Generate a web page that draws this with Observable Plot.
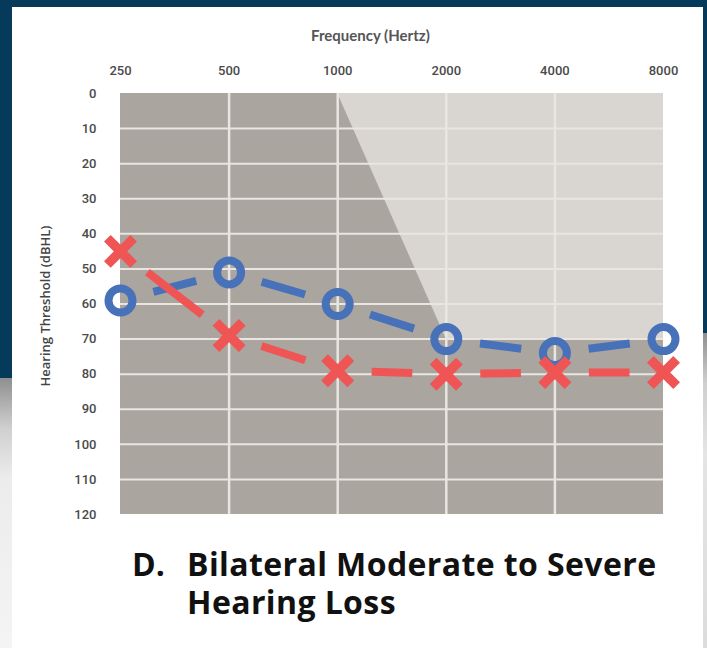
<!DOCTYPE html>
<html>
<head>
<meta charset="utf-8">
<script src="https://cdn.jsdelivr.net/npm/d3@7"></script>
<script src="https://cdn.jsdelivr.net/npm/@observablehq/plot@0.6"></script>
<style>
  html, body { margin: 0; padding: 0; }
  body { width: 707px; height: 648px; position: relative; overflow: hidden; background: #053a5a; }
  .card { position: absolute; left: 12px; top: 7px; width: 691px; height: 660px; background: #ffffff; }
  .shadeL { position: absolute; left: 0; top: 378px; width: 12px; height: 270px;
    background: linear-gradient(to bottom, #8f8f8f 0px, #cfcfcf 50px, #ececec 100px, #f4f4f4 270px); }
  .shadeR { position: absolute; left: 703px; top: 333px; width: 4px; height: 315px;
    background: linear-gradient(to bottom, #8f8f8f 0px, #cfcfcf 50px, #e4e4e4 120px, #dcdcdc 315px); }
  #chart { position: absolute; left: 0; top: 0; }
  .xtitle { position: absolute; left: 311px; top: 26px; font-family: Lato, sans-serif; font-weight: 700; font-size: 15px; color: #555; white-space: nowrap; }
  .ytitle { position: absolute; left: 45px; top: 306px; transform: translate(-50%, -50%) rotate(-90deg); font-family: "Open Sans", sans-serif; font-weight: 600; font-size: 13px; color: #444; white-space: nowrap; }
  .title { position: absolute; font-family: "Open Sans", sans-serif; font-weight: 700; font-size: 32px; line-height: 32px; color: #111; white-space: nowrap; letter-spacing: 0.4px; }
</style>
</head>
<body>
<div class="card"></div>
<div class="shadeL"></div>
<div class="shadeR"></div>
<div id="chart"></div>
<div class="xtitle">Frequency (Hertz)</div>
<div class="ytitle">Hearing Threshold (dBHL)</div>
<div class="title" style="left:132px; top:548px; letter-spacing:0">D.</div>
<div class="title" style="left:187px; top:548px">Bilateral Moderate to Severe</div>
<div class="title" style="left:187px; top:586px">Hearing Loss</div>
<script>
// Data
const frequencies = ["250", "500", "1000", "2000", "4000", "8000"];
const blueO = [59, 51, 60, 70, 74, 70];     // circle markers (dBHL)
const redX  = [45, 69, 79, 80, 79.5, 79.5]; // cross markers (dBHL)
const dbTicks = [0, 10, 20, 30, 40, 50, 60, 70, 80, 90, 100, 110, 120];
// light "normal hearing" region boundary (frequency index, level)
const regionFreqIdx = [2, 3, 5];
const regionLevel = [0, 70, 70];

const idx = frequencies.map((_, i) => i);
const pts = (vals) => vals.map((v, i) => ({i, v}));
const segs = (vals) => vals.slice(1).map((v, k) => ({x1: k, y1: vals[k], x2: k + 1, y2: v}));

const blue = "#4771b9";
const red = "#f05556";
const gridColor = "#e9e6e1";

const svg = Plot.plot({
  width: 707,
  height: 530,
  marginLeft: 120,
  marginRight: 44,
  marginTop: 93,
  marginBottom: 16,
  style: {background: "transparent", fontFamily: "Roboto, sans-serif", fontSize: "13px", fontWeight: 500, color: "#4a4a4a", overflow: "visible"},
  x: {domain: [0, 5], axis: "top", ticks: idx, tickFormat: i => frequencies[i], tickSize: 0, tickPadding: 19, label: null},
  y: {domain: [0, 120], reverse: true, ticks: dbTicks, tickSize: 0, tickPadding: 24, label: null},
  marks: [
    Plot.rectY([0], {x1: 0, x2: 5, y1: 0, y2: 120, fill: "#aaa59f"}),
    Plot.areaY(regionFreqIdx.map((x, k) => ({x, y: regionLevel[k]})), {x: "x", y1: 0, y2: "y", fill: "#d9d6d1"}),
    Plot.ruleY(dbTicks.filter(d => d > 0 && d < 120), {x1: 0, x2: 5, stroke: gridColor, strokeWidth: 2}),
    Plot.ruleX([1, 2, 3, 4], {y1: 0, y2: 120, stroke: gridColor, strokeWidth: 2.5}),
    Plot.link(segs(blueO), {x1: "x1", y1: "y1", x2: "x2", y2: "y2", stroke: blue, strokeWidth: 8}),
    Plot.dot(pts(blueO), {x: "i", y: "v", r: 12, stroke: blue, strokeWidth: 8, fill: "none"}),
    Plot.link(segs(redX), {x1: "x1", y1: "y1", x2: "x2", y2: "y2", stroke: red, strokeWidth: 8}),
    Plot.dot(pts(redX), {x: "i", y: "v", r: 12, symbol: "times", stroke: red, strokeWidth: 9.5})
  ]
});
document.getElementById("chart").appendChild(svg);
// one centred dash per segment, with a fixed gap at each end
svg.querySelectorAll('g[aria-label="link"] path, g[aria-label="link"] line').forEach(p => {
  const L = p.getTotalLength();
  const gap = 34;
  p.setAttribute("stroke-dasharray", `0 ${gap} ${Math.max(0, L - 2 * gap)} ${L + 10}`);
});
</script>
</body>
</html>
